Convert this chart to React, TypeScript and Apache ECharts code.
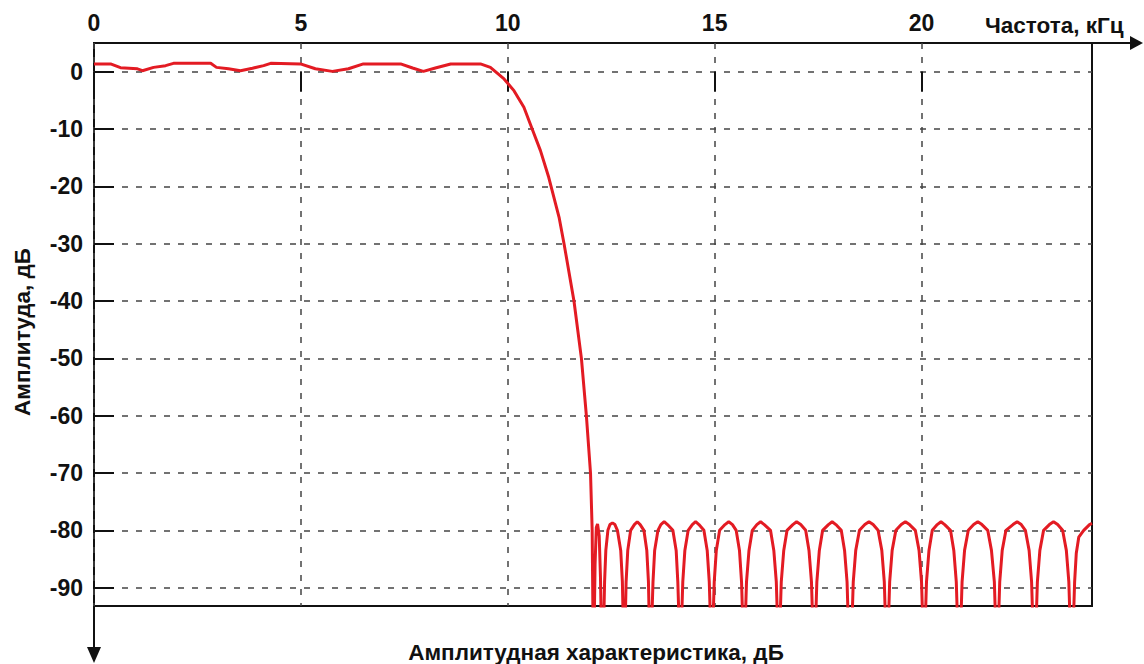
import React, { useEffect, useRef } from "react";
import * as echarts from "echarts";

// Tick values
const xTickValues = [0, 5, 10, 15, 20];
const yTickValues = [0, -10, -20, -30, -40, -50, -60, -70, -80, -90];

// Axis extents
const xMin = 0;
const xMax = 24.12;
const yMin = -93.2;
const yMax = 5;

// Texts
const xAxisTitle = "Частота, кГц";
const yAxisTitle = "Амплитуда, дБ";
const chartTitle = "Амплитудная характеристика, дБ";

// Passband: [frequency kHz, amplitude dB]
const passband: [number, number][] = [
  [0.0, 1.35], [0.4, 1.35], [0.64, 0.7], [1.05, 0.5], [1.17, 0.17], [1.44, 0.75],
  [1.73, 1.05], [1.92, 1.45], [2.82, 1.45], [2.96, 0.75], [3.25, 0.5], [3.54, 0.17],
  [3.83, 0.6], [4.1, 1.05], [4.27, 1.45], [4.99, 1.35], [5.35, 0.5], [5.76, 0.05],
  [6.15, 0.5], [6.51, 1.35], [7.41, 1.35], [7.7, 0.64], [7.96, 0.05], [8.25, 0.64],
  [8.62, 1.35], [9.34, 1.35], [9.58, 0.75],
];

// Transition band
const transition: [number, number][] = [
  [9.91, -1.27], [10.15, -3.31], [10.39, -6.22], [10.59, -9.99], [10.79, -13.77],
  [10.99, -18.42], [11.24, -25.4], [11.36, -30], [11.6, -40], [11.78, -50],
  [11.9, -60], [12.0, -70], [12.04, -80], [12.06, -96],
];

// Stopband side lobes (nulls fall below the plot bottom)
const stopband: [number, number][] = [
  [12.09, -96], [12.11, -86], [12.14, -79.5], [12.17, -78.9], [12.21, -81], [12.24, -88], [12.26, -96],
  [12.32, -96], [12.34, -89], [12.37, -83.5], [12.42, -80], [12.47, -79], [12.53, -78.7], [12.59, -79], [12.65, -80], [12.73, -83.5], [12.77, -89], [12.79, -96],
  [12.84, -96], [12.86, -89], [12.9, -83.5], [12.97, -80], [13.06, -79], [13.13, -78.5], [13.2, -79], [13.29, -80], [13.36, -83.5], [13.4, -89], [13.42, -96],
  [13.48, -96], [13.51, -89], [13.55, -83.5], [13.63, -80], [13.7, -79], [13.78, -78.5], [13.86, -79], [13.99, -80], [14.07, -83.5], [14.11, -89], [14.14, -96],
  [14.2, -96], [14.23, -89], [14.28, -83.5], [14.36, -80], [14.46, -79], [14.54, -78.5], [14.62, -79], [14.74, -80], [14.82, -83.5], [14.87, -89], [14.9, -96],
  [14.96, -96], [14.99, -89], [15.04, -83.5], [15.12, -80], [15.25, -79], [15.34, -78.5], [15.43, -79], [15.52, -80], [15.6, -83.5], [15.65, -89], [15.68, -96],
  [15.74, -96], [15.77, -89], [15.83, -83.5], [15.91, -80], [16.02, -79], [16.11, -78.5], [16.2, -79], [16.35, -80], [16.43, -83.5], [16.49, -89], [16.52, -96],
  [16.58, -96], [16.61, -89], [16.67, -83.5], [16.75, -80], [16.89, -79], [16.98, -78.5], [17.08, -79], [17.2, -80], [17.28, -83.5], [17.34, -89], [17.37, -96],
  [17.44, -96], [17.47, -89], [17.53, -83.5], [17.61, -80], [17.75, -79], [17.84, -78.5], [17.93, -79], [18.06, -80], [18.14, -83.5], [18.2, -89], [18.23, -96],
  [18.32, -96], [18.35, -89], [18.41, -83.5], [18.5, -80], [18.63, -79], [18.73, -78.5], [18.83, -79], [18.95, -80], [19.04, -83.5], [19.1, -89], [19.13, -96],
  [19.2, -96], [19.23, -89], [19.29, -83.5], [19.38, -80], [19.51, -79], [19.61, -78.5], [19.71, -79], [19.85, -80], [19.94, -83.5], [20.0, -89], [20.03, -96],
  [20.09, -96], [20.12, -89], [20.18, -83.5], [20.26, -80], [20.38, -79], [20.47, -78.5], [20.56, -79], [20.7, -80], [20.78, -83.5], [20.84, -89], [20.87, -96],
  [20.95, -96], [20.98, -89], [21.04, -83.5], [21.13, -80], [21.26, -79], [21.36, -78.5], [21.46, -79], [21.6, -80], [21.69, -83.5], [21.76, -89], [21.79, -96],
  [21.86, -96], [21.89, -89], [21.95, -83.5], [22.04, -80], [22.21, -79], [22.31, -78.5], [22.41, -79], [22.51, -80], [22.6, -83.5], [22.66, -89], [22.69, -96],
  [22.77, -96], [22.8, -89], [22.86, -83.5], [22.95, -80], [23.09, -79], [23.19, -78.5], [23.29, -79], [23.41, -80], [23.5, -83.5], [23.56, -89], [23.59, -96],
  [23.67, -96], [23.7, -89], [23.74, -84], [23.8, -81.2], [23.92, -80], [24.06, -79], [24.12, -78.8],
];

// Layout (pixels)
const W = 1144;
const H = 664;
const GL = 94;
const GT = 43;
const GR = 52;
const GB = 58;
const FONT = "'Liberation Sans', Arial, sans-serif";
const INK = "#111";
const RED = "#e31b23";

export default function App() {
  const ref = useRef<HTMLDivElement>(null);

  useEffect(() => {
    document.body.style.margin = "0";
    if (!ref.current) return;
    const chart = echarts.init(ref.current, null, { renderer: "svg" });
    const data = [...passband, ...transition, ...stopband];
    const right = W - GR;
    const bottom = H - GB;

    const dashed = { color: "#444", width: 1.5, type: [6, 8] as number[] };
    const tickFont = { fontSize: 23, fontFamily: FONT, fontWeight: "bold" as const, color: INK };
    const titleStyle = { fontSize: 22.5, fontFamily: FONT, fontWeight: "bold" as const, fill: INK };

    chart.setOption({
      animation: false,
      grid: {
        left: GL,
        top: GT,
        right: GR,
        bottom: GB,
        show: true,
        borderColor: INK,
        borderWidth: 2,
        backgroundColor: "transparent",
      },
      xAxis: {
        type: "value",
        position: "top",
        min: xMin,
        max: xMax,
        axisLine: { show: false },
        axisTick: {
          show: true,
          inside: true,
          length: 20,
          customValues: xTickValues,
          lineStyle: { color: INK, width: 2 },
        },
        axisLabel: { customValues: xTickValues, margin: 9, ...tickFont },
        splitLine: { show: true, lineStyle: dashed },
      },
      yAxis: {
        type: "value",
        min: yMin,
        max: yMax,
        axisLine: { show: false },
        axisTick: {
          show: true,
          inside: true,
          length: 20,
          customValues: yTickValues,
          lineStyle: { color: INK, width: 2 },
        },
        axisLabel: { customValues: yTickValues, margin: 11, ...tickFont },
        splitLine: { show: true, lineStyle: dashed },
      },
      series: [
        {
          type: "line",
          data,
          showSymbol: false,
          symbol: "none",
          clip: true,
          lineStyle: { color: RED, width: 3 },
          z: 5,
        },
      ],
      graphic: [
        {
          type: "line",
          shape: { x1: right, y1: GT, x2: W - 10, y2: GT },
          style: { stroke: INK, lineWidth: 2 },
        },
        {
          type: "polygon",
          shape: { points: [[W - 1, GT], [W - 14, GT - 7], [W - 14, GT + 7]] },
          style: { fill: INK },
        },
        {
          type: "line",
          shape: { x1: GL, y1: bottom, x2: GL, y2: H - 12 },
          style: { stroke: INK, lineWidth: 2 },
        },
        {
          type: "polygon",
          shape: { points: [[GL, H - 1], [GL - 7, H - 17], [GL + 7, H - 17]] },
          style: { fill: INK },
        },
        {
          type: "text",
          x: 985,
          y: 25,
          style: { text: xAxisTitle, ...titleStyle, align: "left", verticalAlign: "middle" },
        },
        {
          type: "text",
          x: 22,
          y: 332,
          rotation: Math.PI / 2,
          style: { text: yAxisTitle, ...titleStyle, align: "center", verticalAlign: "middle" },
        },
        {
          type: "text",
          x: 596,
          y: 652,
          style: { text: chartTitle, ...titleStyle, align: "center", verticalAlign: "middle" },
        },
      ],
    });

    return () => chart.dispose();
  }, []);

  return <div ref={ref} style={{ width: W, height: H }} />;
}
